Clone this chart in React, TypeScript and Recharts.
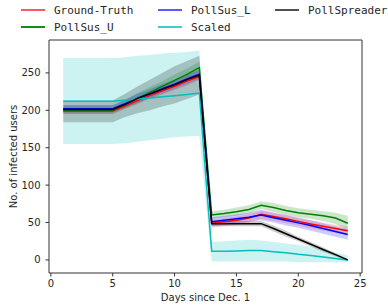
import { ComposedChart, Line, Area, XAxis, YAxis, ReferenceLine } from 'recharts';

const days = [1, 2, 3, 4, 5, 6, 7, 8, 9, 10, 11, 12, 13, 14, 15, 16, 17, 18, 19, 20, 21, 22, 23, 24];

// Ground-Truth (red)
const gt = [199, 199, 199, 199, 199, 206, 213, 220, 226, 232, 239, 245, 49, 51, 53, 56, 61, 58, 55, 51.5, 48, 45, 42, 39];
const gtLo = [195, 195, 195, 195, 195, 202, 208, 215, 221, 227, 233, 240, 43, 45, 47, 50, 55, 52, 49, 46, 42, 39, 36, 34];
const gtHi = [203, 203, 203, 203, 203, 210, 218, 225, 231, 237, 245, 250, 54, 56, 58, 61, 66, 63, 60, 57, 53, 50, 47, 45];

// PollSus_U (green)
const susU = [200, 200, 200, 200, 200, 208, 216, 224, 232, 240, 248, 257, 60, 62, 64.5, 67.5, 73, 70, 66, 63, 61, 59, 56, 49];
const susULo = [195, 195, 195, 195, 195, 202, 209, 217, 225, 232, 240, 250, 55, 57, 59, 62, 68, 64, 60, 57, 55, 52, 48, 40];
const susUHi = [206, 206, 206, 206, 206, 214, 223, 231, 239, 248, 256, 265, 65, 67, 70, 73, 78, 76, 72, 69, 67, 65, 63, 59];

// PollSus_L (blue)
const susL = [202, 202, 202, 202, 202, 209, 216, 222, 229, 235, 242, 248, 51, 53, 55, 57, 60, 56.5, 53, 49.5, 46, 42, 38, 34];
const susLLo = [197, 197, 197, 197, 197, 203, 210, 216, 222, 228, 235, 242, 45, 47, 49, 51, 53, 50, 46, 43, 39, 35, 31, 27];
const susLHi = [207, 207, 207, 207, 207, 214, 222, 228, 235, 241, 248, 254, 57, 59, 61, 63, 67, 63, 60, 56, 53, 49, 45, 41];

// Scaled (cyan)
const scaled = [212, 212, 212, 212, 212, 213.5, 215, 216.5, 218, 219.5, 221, 223, 11.5, 11.5, 12, 12.5, 12.5, 11, 9.5, 7.5, 6, 4, 2, 0];
const scaledLo = [155, 155, 155, 155, 155, 156, 158, 160, 162, 164, 165, 166, -2, -2, -2, -2, -2, -2, -2, -3, -3, -3, -3, -3];
const scaledHi = [270, 270, 270, 270, 270, 271, 273, 274, 276, 277, 278, 280, 24, 25, 26, 27, 26, 24, 22, 20, 18, 14, 10, 6];

// PollSpreader (black)
const spreader = [201, 201, 201, 201, 201, 208, 216, 222, 228, 234, 241, 247, 48.5, 48.5, 48.5, 48.5, 48.5, 42, 35, 28, 21, 14, 7, 0];
const spreaderLo = [184, 184, 184, 184, 184, 191, 196, 200, 205, 209, 215, 221, 45, 45, 45, 45, 45, 38, 31, 25, 18, 11, 5, -1];
const spreaderHi = [213, 213, 213, 213, 213, 222, 232, 241, 250, 259, 266, 273, 52, 52, 52, 52, 52, 46, 39, 31, 24, 17, 9, 1];

const xTicks = [0, 5, 10, 15, 20, 25];
const yTicks = [0, 50, 100, 150, 200, 250];

const data = days.map((day, i) => ({
  day,
  gt: gt[i],
  gtBand: [gtLo[i], gtHi[i]],
  susU: susU[i],
  susUBand: [susULo[i], susUHi[i]],
  susL: susL[i],
  susLBand: [susLLo[i], susLHi[i]],
  scaled: scaled[i],
  scaledBand: [scaledLo[i], scaledHi[i]],
  spreader: spreader[i],
  spreaderBand: [spreaderLo[i], spreaderHi[i]],
}));

const legendItems = [
  { name: 'Ground-Truth', color: '#ff5a5a', x: 21, y: 10 },
  { name: 'PollSus_U', color: '#1a8c1a', x: 21, y: 27 },
  { name: 'PollSus_L', color: '#5a5aff', x: 158, y: 10 },
  { name: 'Scaled', color: '#4cc8c8', x: 158, y: 27 },
  { name: 'PollSpreader', color: '#505050', x: 275, y: 10 },
];

const tickStyle = { fontSize: 10, fill: '#262626', fontFamily: 'DejaVu Sans' };
const axisColor = '#333';

export default function App() {
  return (
    <div style={{ position: 'absolute', left: 0, top: 0, width: 388, height: 307, background: '#fff' }}>
      <ComposedChart width={388} height={307} data={data} margin={{ top: 40, right: 26, bottom: 0, left: 0 }}>
        <XAxis
          dataKey="day"
          type="number"
          domain={[-0.15, 25.15]}
          ticks={xTicks}
          allowDataOverflow
          height={34}
          stroke={axisColor}
          tickSize={3.5}
          tickMargin={3}
          tick={tickStyle}
          label={{ value: 'Days since Dec. 1', position: 'insideBottom', offset: 6, style: { fontSize: 10, fill: '#262626', fontFamily: 'DejaVu Sans' } }}
        />
        <YAxis
          type="number"
          domain={[-17.5, 294]}
          ticks={yTicks}
          allowDataOverflow
          width={49}
          stroke={axisColor}
          tickSize={3.5}
          tickMargin={5}
          tick={tickStyle}
          label={{ value: 'No. of infected users', angle: -90, position: 'insideLeft', offset: 13, style: { textAnchor: 'middle', fontSize: 10, fill: '#262626', fontFamily: 'DejaVu Sans' } }}
        />
        <ReferenceLine y={294} stroke={axisColor} />
        <ReferenceLine x={25.15} stroke={axisColor} />

        <Area type="linear" dataKey="scaledBand" stroke="none" fill="#00bfbf" fillOpacity={0.2} isAnimationActive={false} activeDot={false} />
        <Area type="linear" dataKey="spreaderBand" stroke="none" fill="#000" fillOpacity={0.2} isAnimationActive={false} activeDot={false} />
        <Area type="linear" dataKey="susUBand" stroke="none" fill="#008000" fillOpacity={0.2} isAnimationActive={false} activeDot={false} />
        <Area type="linear" dataKey="susLBand" stroke="none" fill="#0000ff" fillOpacity={0.2} isAnimationActive={false} activeDot={false} />
        <Area type="linear" dataKey="gtBand" stroke="none" fill="#ff0000" fillOpacity={0.15} isAnimationActive={false} activeDot={false} />

        <Line type="linear" dataKey="gt" stroke="#ff0000" strokeWidth={1.5} dot={false} isAnimationActive={false} />
        <Line type="linear" dataKey="susU" stroke="#008000" strokeWidth={1.5} dot={false} isAnimationActive={false} />
        <Line type="linear" dataKey="susL" stroke="#0000ff" strokeWidth={1.5} dot={false} isAnimationActive={false} />
        <Line type="linear" dataKey="scaled" stroke="#00bfbf" strokeWidth={1.5} dot={false} isAnimationActive={false} />
        <Line type="linear" dataKey="spreader" stroke="#000" strokeWidth={1.5} dot={false} isAnimationActive={false} />
      </ComposedChart>
      {legendItems.map((item) => (
        <div key={item.name} style={{ position: 'absolute', left: item.x, top: item.y - 8, height: 16, display: 'flex', alignItems: 'center' }}>
          <div style={{ width: 24, height: 2, background: item.color }} />
          <span style={{ marginLeft: 9, fontFamily: 'DejaVu Sans Mono', fontSize: 11, color: '#262626', whiteSpace: 'nowrap' }}>{item.name}</span>
        </div>
      ))}
    </div>
  );
}
